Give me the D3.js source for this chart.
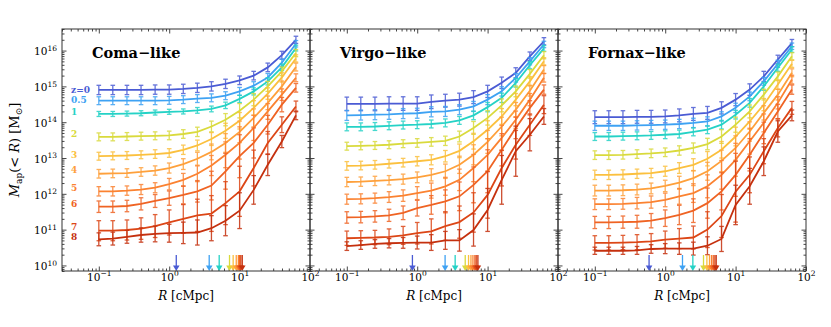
<!DOCTYPE html>
<html lang="en">
<head>
    <meta charset="UTF-8">
    <script src="https://d3js.org/d3.v7.min.js"></script>
    <title>Map(<R)</title>
    <style>
      body { margin: 0; background: #fff; }
      svg text { font-family: "DejaVu Serif", serif; }
    </style>
</head>
<body>
    <div id="chart"></div>

    <script>
      // radii of the apertures [cMpc]
      var radii = [0.1, 0.158, 0.251, 0.398, 0.631, 1, 1.585, 2.512, 3.981, 6.31, 10, 15.85, 25.12, 39.81, 63.1];
      var redshifts = ["z=0", "0.5", "1", "2", "3", "4", "5", "6", "7", "8"];
      var panelNames = ["Coma\u2212like", "Virgo\u2212like", "Fornax\u2212like"];

      // log10 Map per redshift (rows) and radius (columns)
      var comaLogM = [
        [14.90,14.90,14.90,14.90,14.91,14.91,14.93,14.96,15.00,15.07,15.17,15.30,15.53,15.87,16.30],
        [14.60,14.60,14.60,14.60,14.60,14.61,14.63,14.66,14.68,14.74,14.86,15.02,15.25,15.66,16.19],
        [14.23,14.23,14.24,14.25,14.27,14.29,14.30,14.33,14.37,14.47,14.65,14.86,15.14,15.53,16.07],
        [13.59,13.59,13.60,13.61,13.62,13.63,13.67,13.73,13.88,14.07,14.32,14.63,15.00,15.42,15.93],
        [13.05,13.06,13.07,13.09,13.11,13.14,13.23,13.35,13.53,13.76,14.04,14.40,14.80,15.25,15.78],
        [12.56,12.57,12.58,12.61,12.65,12.72,12.83,12.98,13.17,13.42,13.73,14.12,14.54,15.00,15.54],
        [12.07,12.07,12.09,12.12,12.17,12.27,12.39,12.56,12.79,13.09,13.42,13.84,14.30,14.77,15.24],
        [11.64,11.64,11.66,11.72,11.80,11.88,11.97,12.07,12.23,12.63,13.05,13.42,13.93,14.49,14.96],
        [10.97,10.97,10.99,11.03,11.10,11.20,11.30,11.40,11.45,11.74,12.07,12.72,13.42,13.93,14.44],
        [10.73,10.75,10.80,10.85,10.88,10.90,10.91,10.92,11.04,11.25,11.53,12.11,12.81,13.46,14.19]
      ];
      var virgoLogM = [
        [14.51,14.51,14.51,14.52,14.52,14.52,14.57,14.60,14.63,14.70,14.86,15.10,15.38,15.84,16.26],
        [14.19,14.20,14.21,14.22,14.24,14.25,14.29,14.30,14.35,14.44,14.63,14.86,15.24,15.70,16.17],
        [13.87,13.87,13.88,13.90,13.92,13.93,13.95,13.98,14.05,14.19,14.42,14.68,15.10,15.59,16.06],
        [13.33,13.34,13.35,13.37,13.40,13.42,13.45,13.48,13.60,13.84,14.12,14.47,14.86,15.35,15.87],
        [12.78,12.79,12.81,12.84,12.87,12.91,12.95,13.05,13.20,13.47,13.79,14.16,14.63,15.14,15.70],
        [12.33,12.34,12.36,12.38,12.41,12.46,12.53,12.63,12.81,13.09,13.45,13.88,14.35,14.88,15.47],
        [11.85,11.86,11.88,11.91,11.95,12.02,12.09,12.21,12.39,12.72,13.09,13.56,14.07,14.63,15.24],
        [11.34,11.35,11.37,11.40,11.47,11.60,11.69,11.79,11.93,12.25,12.63,13.23,13.84,14.40,14.91],
        [10.76,10.77,10.78,10.80,10.84,10.90,10.95,11.10,11.21,11.48,11.97,12.72,13.37,13.93,14.49],
        [10.54,10.57,10.60,10.62,10.63,10.64,10.64,10.70,10.70,10.99,11.55,12.39,13.19,13.65,14.16]
      ];
      var fornaxLogM = [
        [14.14,14.14,14.14,14.15,14.15,14.16,14.19,14.23,14.26,14.40,14.63,14.91,15.28,15.75,16.21],
        [13.90,13.90,13.90,13.91,13.92,13.93,13.95,13.98,14.02,14.16,14.40,14.72,15.14,15.63,16.12],
        [13.60,13.60,13.61,13.62,13.63,13.65,13.67,13.73,13.79,13.93,14.21,14.54,15.00,15.52,16.03],
        [13.08,13.08,13.09,13.11,13.13,13.16,13.21,13.28,13.39,13.60,13.93,14.30,14.77,15.28,15.84],
        [12.53,12.53,12.54,12.56,12.58,12.63,12.72,12.81,12.98,13.23,13.60,14.02,14.49,15.05,15.63],
        [12.09,12.09,12.10,12.12,12.15,12.22,12.31,12.44,12.63,12.92,13.28,13.74,14.26,14.77,15.38],
        [11.71,11.71,11.72,11.74,11.77,11.83,11.93,12.02,12.21,12.53,12.95,13.47,13.98,14.54,15.19],
        [11.20,11.20,11.21,11.22,11.25,11.32,11.41,11.53,11.74,12.07,12.53,13.09,13.70,14.30,14.91],
        [10.63,10.63,10.64,10.65,10.67,10.72,10.75,10.78,11.00,11.38,12.06,12.53,13.19,13.84,14.40],
        [10.41,10.41,10.41,10.42,10.46,10.47,10.47,10.47,10.55,10.74,11.69,12.21,12.91,13.74,14.19]
      ];

      // error bar half length [dex]
      var comaErr = [
        [0.13,0.13,0.13,0.13,0.13,0.13,0.13,0.13,0.13,0.13,0.12,0.12,0.12,0.11,0.10],
        [0.11,0.11,0.11,0.11,0.11,0.11,0.11,0.11,0.11,0.11,0.11,0.11,0.11,0.10,0.09],
        [0.07,0.07,0.07,0.07,0.07,0.07,0.07,0.08,0.08,0.09,0.10,0.10,0.10,0.09,0.08],
        [0.11,0.11,0.11,0.11,0.11,0.12,0.12,0.13,0.15,0.17,0.20,0.17,0.14,0.12,0.10],
        [0.11,0.11,0.11,0.11,0.12,0.12,0.13,0.15,0.18,0.21,0.23,0.20,0.16,0.13,0.10],
        [0.12,0.12,0.12,0.12,0.13,0.14,0.15,0.18,0.22,0.26,0.30,0.25,0.19,0.15,0.11],
        [0.13,0.13,0.13,0.14,0.14,0.16,0.18,0.22,0.28,0.36,0.45,0.35,0.22,0.16,0.11],
        [0.16,0.16,0.16,0.17,0.18,0.20,0.25,0.30,0.40,0.50,0.60,0.42,0.26,0.20,0.12],
        [0.28,0.28,0.28,0.30,0.32,0.35,0.40,0.45,0.50,0.60,0.70,0.50,0.32,0.22,0.15],
        [0.18,0.18,0.18,0.20,0.22,0.25,0.30,0.35,0.35,0.42,0.50,0.40,0.30,0.17,0.12]
      ];
      var virgoErr = [
        [0.19,0.19,0.19,0.19,0.19,0.19,0.19,0.18,0.18,0.18,0.17,0.16,0.14,0.12,0.10],
        [0.14,0.14,0.14,0.14,0.14,0.14,0.14,0.14,0.14,0.14,0.14,0.13,0.12,0.10,0.09],
        [0.11,0.11,0.11,0.11,0.11,0.11,0.11,0.11,0.11,0.12,0.13,0.13,0.12,0.10,0.08],
        [0.11,0.11,0.11,0.11,0.11,0.12,0.12,0.13,0.15,0.18,0.20,0.18,0.15,0.12,0.10],
        [0.12,0.12,0.12,0.12,0.12,0.13,0.14,0.16,0.19,0.22,0.25,0.22,0.17,0.13,0.10],
        [0.13,0.13,0.13,0.13,0.14,0.15,0.17,0.20,0.24,0.28,0.32,0.26,0.20,0.15,0.11],
        [0.14,0.14,0.14,0.15,0.16,0.18,0.21,0.25,0.30,0.38,0.45,0.35,0.24,0.17,0.12],
        [0.16,0.16,0.16,0.17,0.19,0.22,0.26,0.32,0.40,0.50,0.60,0.45,0.30,0.20,0.13],
        [0.20,0.20,0.20,0.22,0.25,0.30,0.35,0.40,0.45,0.55,0.65,0.50,0.40,0.30,0.25],
        [0.12,0.12,0.12,0.13,0.15,0.18,0.22,0.25,0.30,0.45,0.60,0.68,0.70,0.45,0.22]
      ];
      var fornaxErr = [
        [0.18,0.18,0.18,0.18,0.18,0.18,0.18,0.18,0.18,0.17,0.17,0.16,0.14,0.12,0.10],
        [0.13,0.13,0.13,0.13,0.13,0.13,0.13,0.13,0.13,0.13,0.13,0.12,0.11,0.10,0.09],
        [0.11,0.11,0.11,0.11,0.11,0.11,0.11,0.11,0.11,0.12,0.12,0.12,0.11,0.10,0.08],
        [0.12,0.12,0.12,0.12,0.12,0.12,0.13,0.14,0.16,0.19,0.21,0.18,0.15,0.12,0.10],
        [0.13,0.13,0.13,0.13,0.13,0.14,0.15,0.17,0.20,0.23,0.26,0.22,0.17,0.13,0.10],
        [0.15,0.15,0.15,0.15,0.15,0.16,0.18,0.21,0.25,0.30,0.34,0.27,0.20,0.15,0.11],
        [0.15,0.15,0.15,0.16,0.17,0.19,0.22,0.26,0.32,0.40,0.46,0.36,0.25,0.17,0.12],
        [0.17,0.17,0.17,0.18,0.20,0.23,0.27,0.33,0.42,0.52,0.60,0.45,0.30,0.20,0.13],
        [0.20,0.20,0.20,0.21,0.22,0.24,0.28,0.32,0.50,0.60,0.85,0.50,0.35,0.25,0.18],
        [0.10,0.10,0.10,0.11,0.12,0.14,0.16,0.18,0.25,0.35,0.55,0.50,0.40,0.30,0.15]
      ];

      // arrows on the R axis, one per redshift [cMpc]
      var comaArrowR = [1.26, 3.70, 5.13, 7.19, 8.1, 8.96, 9.6, 10.0, 10.4, 10.9];
      var virgoArrowR = [0.855, 2.49, 3.46, 4.81, 5.36, 5.80, 6.19, 6.60, 6.89, 7.28];
      var fornaxArrowR = [0.59, 1.76, 2.47, 3.50, 3.91, 4.26, 4.55, 4.81, 5.08, 5.30];

      // where the redshift labels sit (log10 Map), first panel only
      var zLabelLogM = [14.89, 14.61, 14.28, 13.67, 13.10, 12.67, 12.16, 11.73, 11.08, 10.80];

      var xMajor = [0.1, 1, 10, 100];
      var xMajorExp = ["\u22121", "0", "1", "2"];
      var yMajor = [1e10, 1e11, 1e12, 1e13, 1e14, 1e15, 1e16];
      var yMajorExp = ["10", "11", "12", "13", "14", "15", "16"];

      var colors = ["#4a5bd4", "#3ea2f3", "#25d2c6", "#d9da3c", "#fbc03e", "#fea03b", "#fb8231", "#ef6323", "#dc4616", "#c5300e"];

      var W = 831, H = 327;
      var panelLeft = [62, 310, 558], panelW = 248, plotTop = 29, plotBottom = 271;

      var svg = d3.select("#chart").append("svg").attr("width", W).attr("height", H);

      var y = d3.scaleLog().domain([7e9, 4e16]).range([plotBottom, plotTop]);

      // minor ticks
      var xMinor = [];
      [0.01, 0.1, 1, 10].forEach(function(dec) {
        for (var k = 2; k <= 9; k++) {
          var v = k * dec;
          if (v >= 0.03 && v < 100) xMinor.push(v);
        }
      });
      var yMinor = [];
      for (var e = 9; e <= 16; e++) {
        for (var k = 2; k <= 9; k++) {
          var v = k * Math.pow(10, e);
          if (v >= 7e9 && v <= 4e16) yMinor.push(v);
        }
      }

      var panels = [
        {name: panelNames[0], logM: comaLogM, err: comaErr, arrows: comaArrowR},
        {name: panelNames[1], logM: virgoLogM, err: virgoErr, arrows: virgoArrowR},
        {name: panelNames[2], logM: fornaxLogM, err: fornaxErr, arrows: fornaxArrowR}
      ];

      function supLabel(sel, exps) {
        sel.each(function(d, i) {
          var t = d3.select(this).text(null);
          t.append("tspan").text("10");
          t.append("tspan").attr("dy", -4.5).attr("font-size", 7.5).text(exps[i]);
        });
      }

      // inward ticks, no labels
      function ticks(g, axis, vals, len) {
        g.call(axis.tickValues(vals).tickSize(-len).tickSizeOuter(0).tickFormat(""));
        g.select(".domain").remove();
        g.selectAll(".tick line").attr("stroke", "#333").attr("stroke-width", 0.9);
      }

      panels.forEach(function(p, k) {
        var x0 = panelLeft[k];
        var x = d3.scaleLog().domain([0.03, 100]).range([x0, x0 + panelW]);
        var g = svg.append("g");
        var atBottom = "translate(0," + plotBottom + ")", atTop = "translate(0," + plotTop + ")";
        var atLeft = "translate(" + x0 + ",0)", atRight = "translate(" + (x0 + panelW) + ",0)";

        ticks(g.append("g").attr("transform", atBottom), d3.axisBottom(x), xMinor, 2.5);
        ticks(g.append("g").attr("transform", atTop), d3.axisTop(x), xMinor, 2.5);
        ticks(g.append("g").attr("transform", atLeft), d3.axisLeft(y), yMinor, 2.5);
        ticks(g.append("g").attr("transform", atRight), d3.axisRight(y), yMinor, 2.5);
        ticks(g.append("g").attr("transform", atTop), d3.axisTop(x), xMajor, 4.5);
        ticks(g.append("g").attr("transform", atRight), d3.axisRight(y), yMajor, 4.5);

        var ax = d3.axisBottom(x).tickValues(xMajor).tickSize(-4.5).tickSizeOuter(0).tickPadding(2.5);
        var bx = g.append("g").attr("transform", atBottom).call(ax).attr("font-size", 10.5);
        bx.select(".domain").remove();
        bx.selectAll(".tick line").attr("stroke", "#333").attr("stroke-width", 0.9);
        bx.selectAll(".tick text").attr("fill", "#000").call(supLabel, xMajorExp);

        var ay = d3.axisLeft(y).tickValues(yMajor).tickSize(-4.5).tickSizeOuter(0).tickPadding(5);
        var ly = g.append("g").attr("transform", atLeft).call(ay).attr("font-size", 10.5);
        ly.select(".domain").remove();
        ly.selectAll(".tick line").attr("stroke", "#333").attr("stroke-width", 0.9);
        if (k == 0) {
          ly.selectAll(".tick text").attr("fill", "#000").attr("dy", "0.4em").call(supLabel, yMajorExp);
        } else {
          ly.selectAll(".tick text").remove();
        }

        // series: error bars then line
        p.logM.forEach(function(vals, j) {
          var col = colors[j];
          var pts = radii.map(function(r, i) {
            return {r: r, lm: vals[i], e: p.err[j][i]};
          });
          var eb = g.append("g").attr("stroke", col).attr("stroke-width", 1.3).attr("opacity", 0.85);
          pts.forEach(function(d) {
            var xx = x(d.r);
            var y1 = y(Math.pow(10, d.lm + d.e)), y2 = y(Math.pow(10, d.lm - d.e));
            eb.append("line").attr("x1", xx).attr("x2", xx).attr("y1", y1).attr("y2", y2);
            eb.append("line").attr("x1", xx - 2.3).attr("x2", xx + 2.3).attr("y1", y1).attr("y2", y1);
            eb.append("line").attr("x1", xx - 2.3).attr("x2", xx + 2.3).attr("y1", y2).attr("y2", y2);
          });
          g.append("path").datum(pts)
            .attr("d", d3.line().x(function(d) { return x(d.r); }).y(function(d) { return y(Math.pow(10, d.lm)); }))
            .attr("fill", "none").attr("stroke", col).attr("stroke-width", 1.8);
        });

        // arrows
        p.arrows.forEach(function(r, j) {
          var xx = x(r);
          g.append("line").attr("x1", xx).attr("x2", xx).attr("y1", plotBottom - 16).attr("y2", plotBottom - 5)
            .attr("stroke", colors[j]).attr("stroke-width", 1.3);
          g.append("path").attr("d", "M" + (xx - 3.3) + "," + (plotBottom - 5.5) + "L" + (xx + 3.3) + "," + (plotBottom - 5.5) + "L" + xx + "," + plotBottom + "Z")
            .attr("fill", colors[j]);
        });

        // frame
        g.append("rect").attr("x", x0).attr("y", plotTop).attr("width", panelW).attr("height", plotBottom - plotTop)
          .attr("fill", "none").attr("stroke", "#333").attr("stroke-width", 1);

        g.append("text").attr("x", x0 + 30).attr("y", 57.5).attr("font-size", 14.5).attr("font-weight", "bold")
          .text(p.name);

        var xl = g.append("text").attr("x", x0 + panelW / 2).attr("y", 300).attr("text-anchor", "middle").attr("font-size", 12);
        xl.append("tspan").attr("font-style", "italic").text("R");
        xl.append("tspan").text(" [cMpc]");

        if (k == 0) {
          redshifts.forEach(function(z, j) {
            g.append("text").attr("x", x(0.0403)).attr("y", y(Math.pow(10, zLabelLogM[j])))
              .attr("dy", "0.35em").attr("font-size", 9).attr("font-weight", "bold")
              .attr("fill", colors[j]).text(z);
          });
        }
      });

      var yl = svg.append("text").attr("transform", "translate(19,150) rotate(-90)")
        .attr("text-anchor", "middle").attr("font-size", 13);
      yl.append("tspan").attr("font-style", "italic").text("M");
      yl.append("tspan").attr("font-size", 9).attr("dy", 2.7).text("ap");
      yl.append("tspan").attr("dy", -2.7).text("(< ");
      yl.append("tspan").attr("font-style", "italic").text("R");
      yl.append("tspan").text(") [M");
      yl.append("tspan").attr("font-size", 9).attr("dy", 2.7).text("\u2299");
      yl.append("tspan").attr("dy", -2.7).text("]");
    </script>
</body>
</html>
